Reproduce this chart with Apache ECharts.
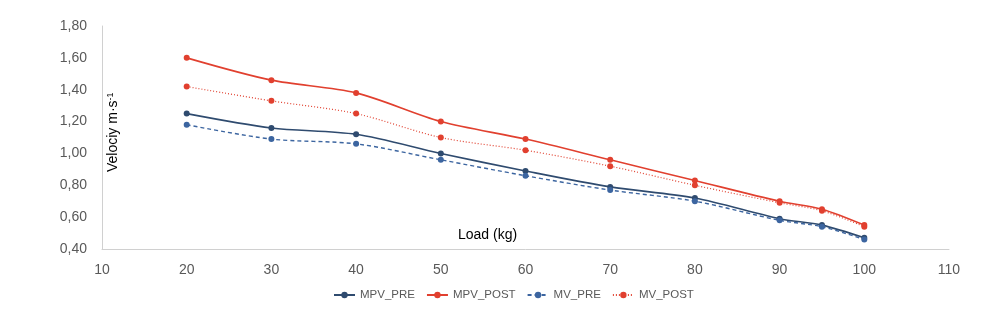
<!DOCTYPE html>
<html>
<head>
<meta charset="utf-8">
<script src="https://cdn.jsdelivr.net/npm/echarts@6/dist/echarts.min.js"></script>
<style>
  html, body { margin: 0; padding: 0; background: #fff; }
  #chart { width: 998px; height: 324px; }
</style>
</head>
<body>
<div id="chart"></div>
<script>
// Load (kg) and mean velocities (m·s⁻¹) before and after training
const loads = [20, 30, 40, 50, 60, 70, 80, 90, 95, 100];
const mpvPre  = [1.25, 1.16, 1.12, 1.00, 0.89, 0.79, 0.72, 0.59, 0.55, 0.47];
const mpvPost = [1.60, 1.46, 1.38, 1.20, 1.09, 0.96, 0.83, 0.70, 0.65, 0.55];
const mvPre   = [1.18, 1.09, 1.06, 0.96, 0.86, 0.77, 0.70, 0.58, 0.54, 0.46];
const mvPost  = [1.42, 1.33, 1.25, 1.10, 1.02, 0.92, 0.80, 0.69, 0.64, 0.54];

const pairs = arr => loads.map((x, i) => [x, arr[i]]);

const FONT = 'Liberation Sans';
const NAVY = '#2f4b6f';
const BLUE = '#3c65a0';
const RED = '#e1402f';

function lineSeries(name, arr, color, type, width) {
  return {
    name,
    type: 'line',
    data: pairs(arr),
    smooth: 0.3,
    symbol: 'circle',
    symbolSize: 6,
    itemStyle: { color },
    lineStyle: { color, width, type },
    emphasis: { disabled: true }
  };
}

const chart = echarts.init(document.getElementById('chart'));
chart.setOption({
  animation: false,
  grid: { left: 102, right: 49, top: 26, bottom: 75 },
  xAxis: {
    type: 'value',
    min: 10, max: 110, interval: 10,
    axisLine: { show: true, lineStyle: { color: '#d0d0d0', width: 1 } },
    axisTick: { show: false },
    splitLine: { show: false },
    axisLabel: { color: '#595959', fontFamily: FONT, fontSize: 14, margin: 14 }
  },
  yAxis: {
    type: 'value',
    min: 0.4, max: 1.8, interval: 0.2,
    axisLine: { show: true, lineStyle: { color: '#d0d0d0', width: 1 } },
    axisTick: { show: false },
    splitLine: { show: false },
    axisLabel: {
      color: '#595959', fontFamily: FONT, fontSize: 14, margin: 15,
      formatter: v => v.toFixed(2).replace('.', ',')
    }
  },
  legend: {
    bottom: 23,
    left: 333,
    padding: 0,
    itemWidth: 21,
    itemHeight: 8,
    itemGap: 11,
    textStyle: { color: '#595959', fontFamily: FONT, fontSize: 11.5 },
    data: ['MPV_PRE', 'MPV_POST', 'MV_PRE', 'MV_POST']
  },
  graphic: [
    {
      type: 'text',
      left: 458, top: 228,
      style: { text: 'Load (kg)', fill: '#000', font: '14px "Liberation Sans"' }
    },
    {
      type: 'text',
      x: 106, y: 172,
      rotation: Math.PI / 2,
      style: {
        text: '{b|Velociy m·s}{s|-1}',
        fill: '#000',
        rich: {
          b: { fontFamily: FONT, fontSize: 14, fill: '#000' },
          s: { fontFamily: FONT, fontSize: 9, fill: '#000', verticalAlign: 'top', padding: [0, 0, 6, 0] }
        }
      }
    }
  ],
  series: [
    lineSeries('MPV_PRE', mpvPre, NAVY, 'solid', 1.6),
    lineSeries('MPV_POST', mpvPost, RED, 'solid', 1.6),
    lineSeries('MV_PRE', mvPre, BLUE, [4, 3], 1.4),
    lineSeries('MV_POST', mvPost, RED, [1, 2], 1.2)
  ]
});
</script>
</body>
</html>
